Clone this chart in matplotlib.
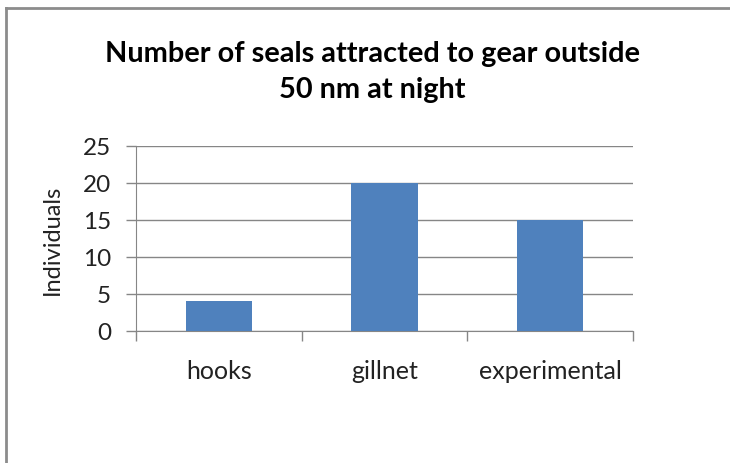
import matplotlib.pyplot as plt
from matplotlib.lines import Line2D

# seals counted near each gear type
gear = ["hooks", "gillnet", "experimental"]
seals = [4, 20, 15]
y_ticks = [0, 5, 10, 15, 20, 25]

plt.rcParams['font.family'] = ['Lato', 'DejaVu Sans']

fig = plt.figure(figsize=(7.3, 4.64), dpi=100)
ax = fig.add_axes([0.1863, 0.2845, 0.6808, 0.3987])

pos = list(range(len(gear)))
ax.bar(pos, seals, width=0.4, color="#4F81BD", zorder=3)

ax.set_xlim(-0.5, len(gear) - 0.5)
ax.set_ylim(0, 25)
ax.set_yticks(y_ticks)
ax.set_yticklabels([str(t) for t in y_ticks], fontsize=17.5, color="#222222")

# category labels sit between the boundary ticks
ax.set_xticks(pos)
ax.set_xticklabels(gear, fontsize=18, color="#222222")
ax.tick_params(axis='x', length=0, pad=20)
ax.set_xticks([p + 0.5 for p in [-1] + pos], minor=True)
ax.tick_params(axis='x', which='minor', length=7, color="#868686", width=1)
ax.tick_params(axis='y', length=7, color="#868686", width=1, pad=11)

ax.grid(axis='y', color="#868686", linewidth=1, zorder=0)
for side in ["top", "right"]:
    ax.spines[side].set_visible(False)
for side in ["left", "bottom"]:
    ax.spines[side].set_color("#868686")

ax.set_ylabel("Individuals", fontsize=17, color="#222222", labelpad=14)

fig.text(0.51, 0.845, "Number of seals attracted to gear outside\n50 nm at night",
         ha='center', va='center', fontsize=20.8, fontweight='bold',
         linespacing=1.5)

# chart frame on the left and top
fig.add_artist(Line2D([0.008, 0.008], [0, 0.98], color="#8c8c8c", linewidth=2))
fig.add_artist(Line2D([0.008, 1.0], [0.98, 0.98], color="#8c8c8c", linewidth=2))

fig.savefig("out.png", dpi=100, facecolor="white")
